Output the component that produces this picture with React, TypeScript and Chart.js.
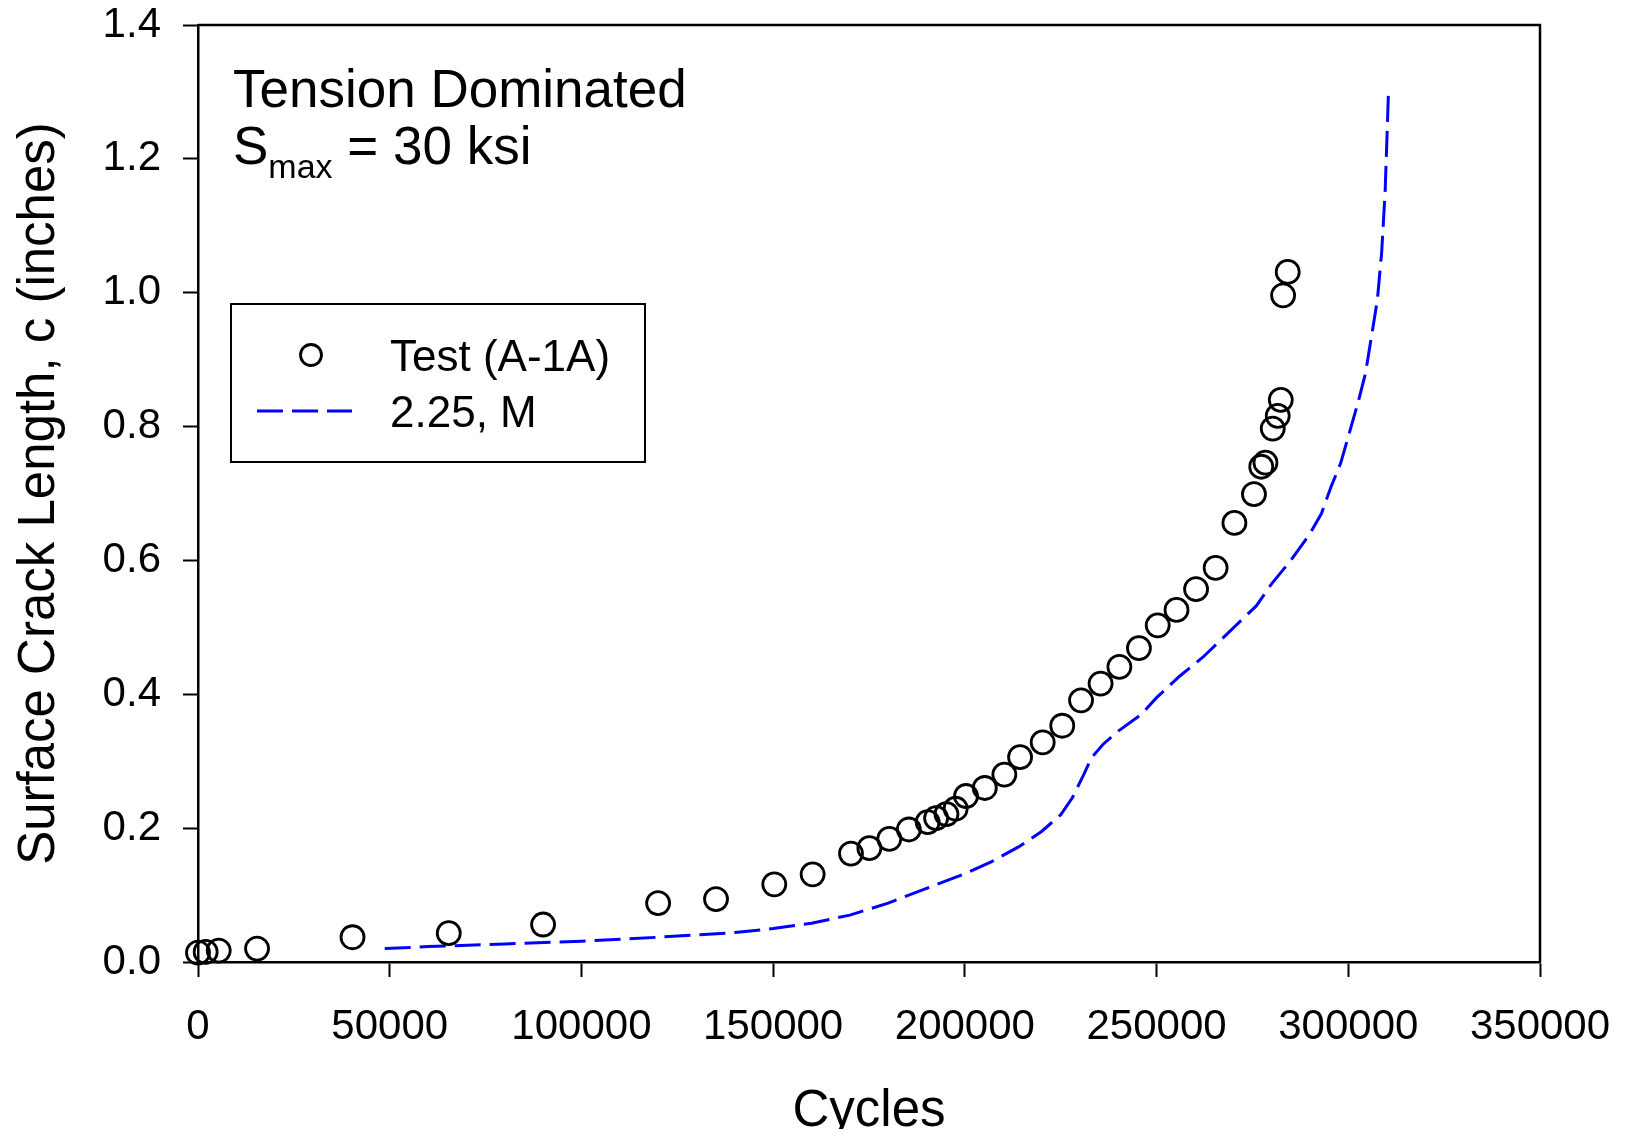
import React, { useEffect, useRef } from "react";
import { Chart, registerables } from "chart.js";

Chart.register(...registerables);

const FONT = "'Liberation Sans', Arial, Helvetica, sans-serif";

// Measured crack growth, specimen A-1A
const testCycles = [
  0, 2000, 5400, 15400, 40300, 65400, 90000, 120000, 135100, 150300, 160300,
  170300, 175100, 180300, 185400, 190300, 192500, 195200, 197600, 200300,
  205200, 210300, 214400, 220300, 225400, 230300, 235400, 240300, 245400,
  250300, 255200, 260300, 265400, 270300, 275400, 277300, 278400, 280300,
  281600, 282400, 283000, 284200,
];
const testCrack = [
  0.014, 0.015, 0.017, 0.02, 0.037, 0.043, 0.056, 0.088, 0.094, 0.116, 0.131,
  0.162, 0.17, 0.184, 0.198, 0.209, 0.215, 0.221, 0.229, 0.248, 0.26, 0.28,
  0.306, 0.328, 0.353, 0.391, 0.416, 0.441, 0.469, 0.503, 0.526, 0.557, 0.589,
  0.656, 0.699, 0.74, 0.746, 0.797, 0.816, 0.84, 0.996, 1.031,
];

// Predicted growth curve (2.25, M)
const modelCycles = [
  48700, 60000, 80000, 100000, 120000, 140000, 150000, 160000, 170000, 180000,
  190000, 200000, 207000, 214000, 220000, 225000, 228000, 231000, 233000,
  236000, 240000, 246000, 250000, 256000, 262000, 268000, 272000, 276000,
  280000, 285000, 290000, 293000, 295500, 298000, 300500, 302500, 304500,
  306200, 307600, 308700, 309600, 310200, 310500,
];
const modelCrack = [
  0.02, 0.023, 0.027, 0.031, 0.037, 0.044, 0.05, 0.058, 0.07, 0.088, 0.11,
  0.132, 0.15, 0.172, 0.195, 0.22, 0.245, 0.28, 0.305, 0.325, 0.345, 0.37,
  0.395, 0.427, 0.455, 0.488, 0.51, 0.532, 0.565, 0.6, 0.64, 0.67, 0.71,
  0.745, 0.795, 0.835, 0.88, 0.94, 0.99, 1.06, 1.15, 1.25, 1.305,
];

const xRange = [0, 350000];
const yRange = [0, 1.4];
const xStep = 50000;
const yStep = 0.2;

const seriesLabels = ["Test (A-1A)", "2.25, M"];
const noteTitle = "Tension Dominated";
const noteStress = ["S", "max", " = 30 ksi"];

// Frame around the plotting area (top and right edges)
const framePlugin = {
  id: "frame",
  beforeDatasetsDraw(chart: any) {
    const { ctx, chartArea } = chart;
    ctx.save();
    ctx.strokeStyle = "#000";
    ctx.lineWidth = 2.5;
    ctx.beginPath();
    ctx.moveTo(chartArea.left, chartArea.top);
    ctx.lineTo(chartArea.right, chartArea.top);
    ctx.lineTo(chartArea.right, chartArea.bottom);
    ctx.stroke();
    ctx.restore();
  },
};

// Text block in the upper-left corner of the plot
const notePlugin = {
  id: "note",
  afterDraw(chart: any) {
    const { ctx } = chart;
    ctx.save();
    ctx.fillStyle = "#000";
    ctx.textBaseline = "alphabetic";
    ctx.textAlign = "left";
    ctx.font = `53px ${FONT}`;
    ctx.fillText(noteTitle, 225, 99);
    let x = 225;
    ctx.fillText(noteStress[0], x, 156);
    x += ctx.measureText(noteStress[0]).width;
    ctx.font = `34px ${FONT}`;
    ctx.fillText(noteStress[1], x, 170);
    x += ctx.measureText(noteStress[1]).width;
    ctx.font = `53px ${FONT}`;
    ctx.fillText(noteStress[2], x, 156);
    ctx.restore();
  },
};

// Boxed legend inside the plot
const legendPlugin = {
  id: "boxLegend",
  afterDraw(chart: any) {
    const { ctx } = chart;
    const ds = chart.data.datasets;
    ctx.save();
    ctx.strokeStyle = "#000";
    ctx.lineWidth = 2;
    ctx.strokeRect(223, 296, 414, 158);

    // marker sample
    ctx.beginPath();
    ctx.arc(303, 347, 10.5, 0, Math.PI * 2);
    ctx.lineWidth = 2.8;
    ctx.strokeStyle = ds[0].borderColor;
    ctx.stroke();

    // line sample
    ctx.beginPath();
    ctx.setLineDash(ds[1].borderDash);
    ctx.strokeStyle = ds[1].borderColor;
    ctx.lineWidth = 3;
    ctx.moveTo(249, 403);
    ctx.lineTo(344, 403);
    ctx.stroke();
    ctx.setLineDash([]);

    ctx.fillStyle = "#000";
    ctx.font = `44px ${FONT}`;
    ctx.textAlign = "left";
    ctx.textBaseline = "alphabetic";
    ctx.fillText(ds[0].label, 382, 363);
    ctx.fillText(ds[1].label, 382, 419);
    ctx.restore();
  },
};

// Keep the plotting area fixed: no extra room for overhanging tick labels
function fixScale(scale: any, size: number) {
  if (scale.isHorizontal()) scale.height = size;
  else scale.width = size;
  scale.paddingTop = 0;
  scale.paddingBottom = 0;
  scale.paddingLeft = 0;
  scale.paddingRight = 0;
}

export default function App() {
  const canvasRef = useRef<HTMLCanvasElement | null>(null);

  useEffect(() => {
    if (!canvasRef.current) return;
    const testPoints = testCycles.map((x, i) => ({ x, y: testCrack[i] }));
    const modelPoints = modelCycles.map((x, i) => ({ x, y: modelCrack[i] }));

    const tickFont = { family: FONT, size: 42 };
    const chart = new Chart(canvasRef.current, {
      type: "scatter",
      data: {
        datasets: [
          {
            label: seriesLabels[0],
            data: testPoints,
            showLine: false,
            pointStyle: "circle",
            pointRadius: 11.5,
            pointHoverRadius: 11.5,
            pointBorderWidth: 2.8,
            borderColor: "#000000",
            backgroundColor: "rgba(0,0,0,0)",
            clip: false,
            order: 1,
          } as any,
          {
            label: seriesLabels[1],
            data: modelPoints,
            showLine: true,
            pointRadius: 0,
            borderColor: "#0000ff",
            borderWidth: 3,
            borderDash: [26, 9],
            backgroundColor: "#0000ff",
            tension: 0,
            clip: false,
            order: 2,
          } as any,
        ],
      },
      options: {
        responsive: false,
        animation: false,
        devicePixelRatio: 1,
        layout: { padding: { top: 17, right: 77, left: 0, bottom: 0 } },
        plugins: {
          legend: { display: false },
          tooltip: { enabled: false },
        },
        scales: {
          x: {
            type: "linear",
            min: xRange[0],
            max: xRange[1],
            afterFit(scale: any) {
              fixScale(scale, 167);
            },
            ticks: {
              stepSize: xStep,
              color: "#000",
              font: tickFont,
              padding: 25,
              maxRotation: 0,
              autoSkip: false,
              callback: (v: any) => String(v),
            },
            grid: {
              drawOnChartArea: false,
              drawTicks: true,
              tickLength: 15,
              tickWidth: 2,
              tickColor: "#000",
            },
            border: { display: true, color: "#000", width: 2.5 },
            title: {
              display: true,
              text: "Cycles",
              color: "#000",
              font: { family: FONT, size: 51, lineHeight: 1 },
              padding: { top: 0, bottom: -8 },
            },
          },
          y: {
            type: "linear",
            min: yRange[0],
            max: yRange[1],
            afterFit(scale: any) {
              fixScale(scale, 190);
            },
            ticks: {
              stepSize: yStep,
              color: "#000",
              font: tickFont,
              padding: 22,
              autoSkip: false,
              callback: (v: any) => Number(v).toFixed(1),
            },
            grid: {
              drawOnChartArea: false,
              drawTicks: true,
              tickLength: 15,
              tickWidth: 2,
              tickColor: "#000",
            },
            border: { display: true, color: "#000", width: 2.5 },
            title: {
              display: true,
              text: "Surface Crack Length, c (inches)",
              color: "#000",
              font: { family: FONT, size: 51, lineHeight: 1 },
              padding: { top: 6, bottom: 0 },
            },
          },
        },
      },
      plugins: [framePlugin, notePlugin, legendPlugin],
    });
    return () => chart.destroy();
  }, []);

  return (
    <div style={{ width: 1609, height: 1121, background: "#fff" }}>
      <canvas
        ref={canvasRef}
        width={1609}
        height={1121}
        style={{ display: "block" }}
      />
    </div>
  );
}
